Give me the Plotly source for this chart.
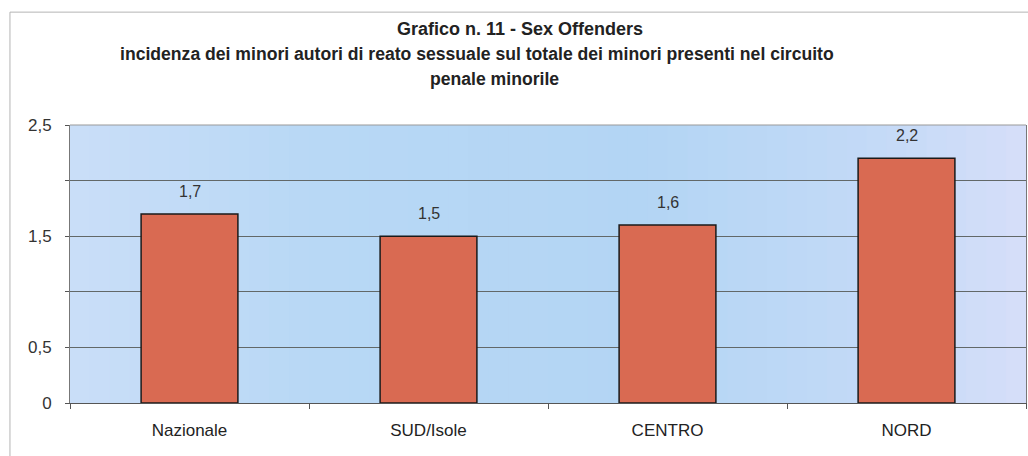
import plotly.graph_objects as go

# Incidence of juvenile sex offenders (%), by geographic area
categories = ["Nazionale", "SUD/Isole", "CENTRO", "NORD"]
values = [1.7, 1.5, 1.6, 2.2]
value_labels = ["1,7", "1,5", "1,6", "2,2"]
y_tick_vals = [0, 0.5, 1, 1.5, 2, 2.5]
y_tick_text = ["0", "0,5", "", "1,5", "", "2,5"]

FONT = "Arial, Liberation Sans, sans-serif"

fig = go.Figure()
fig.add_trace(go.Bar(
    x=categories,
    y=values,
    width=0.405,
    marker=dict(color="#D96A52", line=dict(color="#1a1a1a", width=1.5)),
    hoverinfo="skip",
))

# value labels above each bar
ann = []
for cat, v, lab in zip(categories, values, value_labels):
    ann.append(dict(x=cat, y=v, xref="x", yref="y", text=lab, showarrow=False,
                    yanchor="bottom", yshift=12,
                    font=dict(family=FONT, size=16, color="#333333")))

# soft horizontal tint across the plotting area
stops = [(0.0, (202, 222, 248)), (0.25, (184, 216, 245)), (0.6, (179, 213, 244)),
         (0.85, (196, 218, 247)), (1.0, (214, 222, 249))]
n = 48
shapes = []
for i in range(n):
    t = (i + 0.5) / n
    for j in range(len(stops) - 1):
        if stops[j][0] <= t <= stops[j + 1][0]:
            a, ca = stops[j]
            b, cb = stops[j + 1]
            f = (t - a) / (b - a)
            c = tuple(round(ca[k] + (cb[k] - ca[k]) * f) for k in range(3))
            break
    shapes.append(dict(type="rect", xref="paper", yref="paper",
                       x0=i / n, x1=(i + 1) / n + 0.001, y0=0, y1=1,
                       fillcolor="rgb(%d,%d,%d)" % c, line=dict(width=0), layer="below"))

# outer chart frame
shapes.append(dict(type="rect", xref="paper", yref="paper",
                   x0=-0.0628, x1=1.1, y0=-0.25, y1=1.406,
                   line=dict(color="#b4b4b4", width=1), fillcolor="rgba(0,0,0,0)"))

titles = [
    ("<b>Grafico n. 11 - Sex Offenders</b>", 520, 29, 18),
    ("<b>incidenza dei minori autori di reato sessuale sul totale dei minori presenti nel circuito</b>",
     477, 54, 17.6),
    ("<b>penale minorile</b>", 494, 79, 17.6),
]
for text, px, py, size in titles:
    ann.append(dict(text=text, xref="paper", yref="paper",
                    x=(px - 70) / 956, y=(403 - py) / 278,
                    xanchor="center", yanchor="middle", showarrow=False,
                    font=dict(family=FONT, size=size, color="#222222")))

fig.update_layout(
    width=1028, height=456,
    margin=dict(l=70, r=2, t=125, b=53),
    paper_bgcolor="white",
    plot_bgcolor="#B8D8F5",
    showlegend=False,
    shapes=shapes,
    annotations=ann,
    font=dict(family=FONT, size=17, color="#333333"),
)
fig.update_xaxes(
    showline=True, linecolor="#555555", linewidth=1, mirror=False,
    ticks="outside", tickson="boundaries", ticklen=5, tickcolor="#555555",
    tickfont=dict(family=FONT, size=17, color="#222222"),
    ticklabelstandoff=12,
    showgrid=False,
)
fig.update_yaxes(
    range=[0, 2.5], tickvals=y_tick_vals, ticktext=y_tick_text,
    showgrid=True, gridcolor="#626868", gridwidth=1,
    showline=True, linecolor="#777777", linewidth=1, mirror=True,
    ticks="outside", ticklen=4, tickcolor="#555555",
    tickfont=dict(family=FONT, size=17, color="#333333"),
    ticklabelstandoff=10,
    zeroline=False,
)
fig.add_shape(type="line", xref="paper", yref="paper", x0=0, x1=1, y0=1, y1=1,
              line=dict(color="#999999", width=1))

fig.write_html("out.html")
